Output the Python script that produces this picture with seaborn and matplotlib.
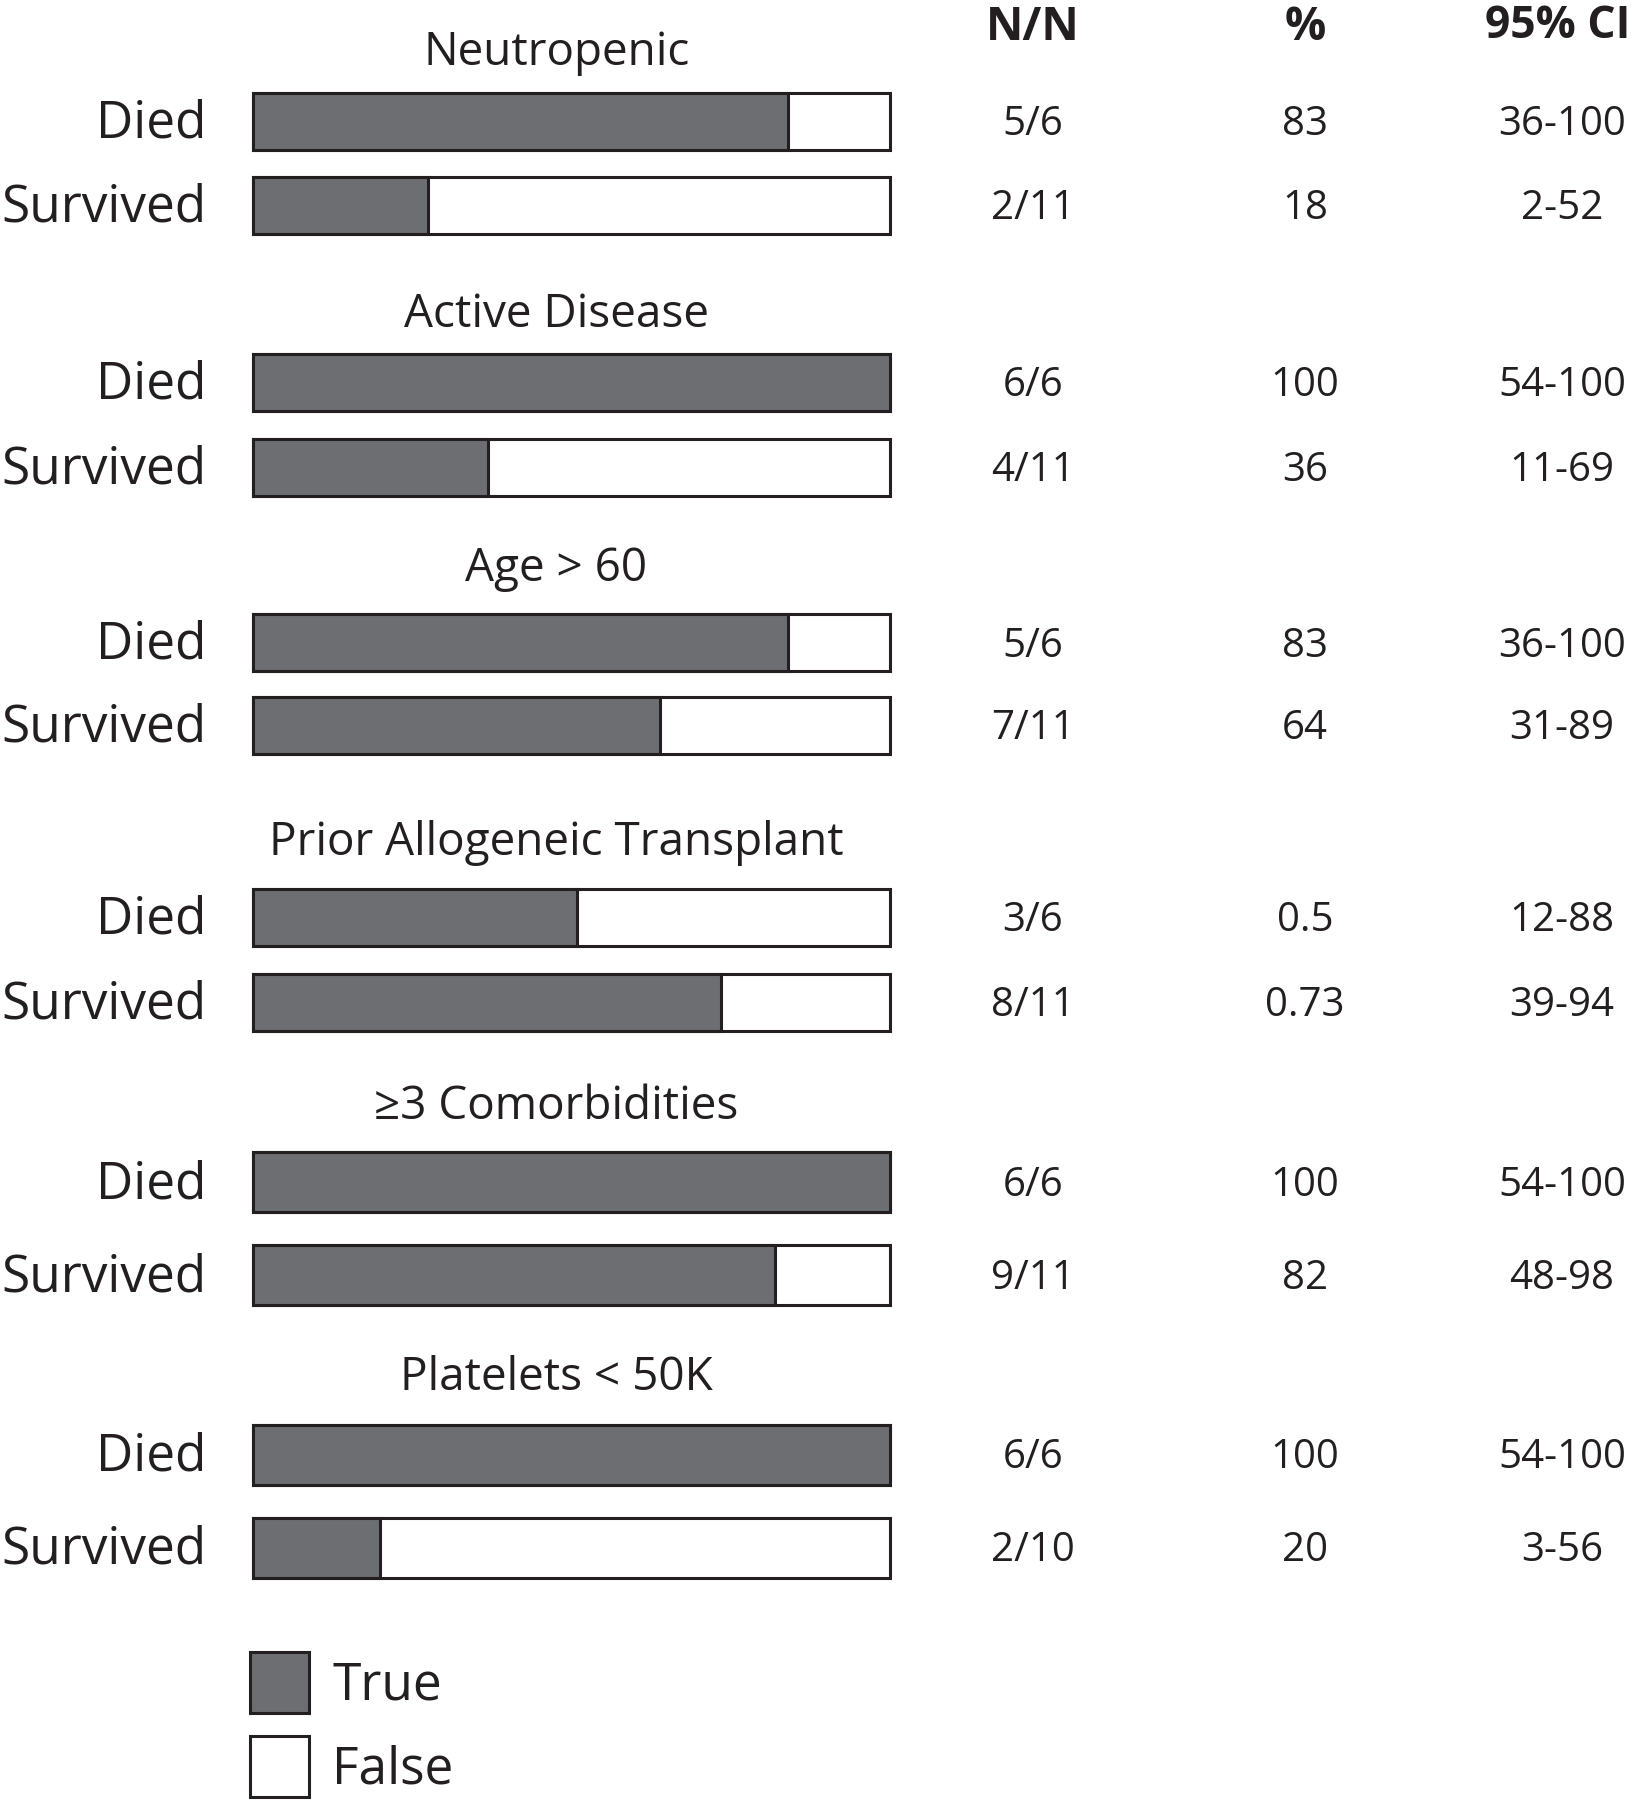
import pandas as pd
import matplotlib
matplotlib.use("Agg")
import matplotlib.pyplot as plt
import matplotlib.transforms as mtransforms
from matplotlib.patches import Patch
import seaborn as sns

# --- data ---
groups = ["Neutropenic", "Active Disease", "Age > 60",
          "Prior Allogeneic Transplant", "\u22653 Comorbidities", "Platelets < 50K"]
statuses = ["Died", "Survived"]
# drawn length of the "True" part of each bar (percent of full bar)
died_true = [84, 100, 84, 51, 100, 100]
survived_true = [27.5, 37, 64, 73.5, 82, 20]
# table columns
nn_died = ["5/6", "6/6", "5/6", "3/6", "6/6", "6/6"]
nn_survived = ["2/11", "4/11", "7/11", "8/11", "9/11", "2/10"]
pct_died = ["83", "100", "83", "0.5", "100", "100"]
pct_survived = ["18", "36", "64", "0.73", "82", "20"]
ci_died = ["36-100", "54-100", "36-100", "12-88", "54-100", "54-100"]
ci_survived = ["2-52", "11-69", "31-89", "39-94", "48-98", "3-56"]
col_headers = ["N/N", "%", "95% CI"]

GRAY = "#6d6e71"
INK = "#231f20"

sns.set_style("white")
plt.rcParams["font.family"] = ["Open Sans", "DejaVu Sans"]
plt.rcParams["text.color"] = INK

W, H = 1632, 1800
fig = plt.figure(figsize=(W / 100, H / 100), dpi=100)

# layout: pixel centres of the Died / Survived rows in each group
died_px = [121.7, 382.3, 642.9, 917.3, 1182.4, 1454.5]
surv_px = [205.5, 467.2, 725.5, 1002.2, 1275.4, 1547.5]
bar_h_px = [57, 57, 57, 57, 60, 60]
title_off_px = [-69, -67, -74, -74, -75, -76]
bar_left, bar_right = 252.5, 889.5
col_x = [1033 / W, 1305 / W, 1562 / W]

for g, title in enumerate(groups):
    step = surv_px[g] - died_px[g]
    half = bar_h_px[g] / 2 / step
    top = died_px[g] - half * step
    bottom = surv_px[g] + half * step
    ax = fig.add_axes([bar_left / W, 1 - bottom / H,
                       (bar_right - bar_left) / W, (bottom - top) / H])

    df = pd.DataFrame({
        "status": statuses,
        "full": [100, 100],
        "true": [died_true[g], survived_true[g]],
    })
    sns.barplot(data=df, x="full", y="status", orient="h", color="white",
                edgecolor=INK, linewidth=2.2, width=2 * half, saturation=1, ax=ax)
    sns.barplot(data=df, x="true", y="status", orient="h", color=GRAY,
                edgecolor=INK, linewidth=2.2, width=2 * half, saturation=1, ax=ax)
    for p in ax.patches:
        p.set_clip_on(False)

    ax.set_xlim(0, 100)
    ax.set_ylim(1 + half, -half)
    ax.set_xlabel("")
    ax.set_ylabel("")
    ax.set_xticks([])
    sns.despine(ax=ax, left=True, bottom=True)
    ax.tick_params(axis="y", length=0, pad=33, labelsize=37, labelcolor=INK)
    shift = mtransforms.ScaledTranslation(0, 3.5 / 100, fig.dpi_scale_trans)
    for lab in ax.get_yticklabels():
        lab.set_transform(lab.get_transform() + shift)

    # group title above the bars
    blend = mtransforms.blended_transform_factory(ax.transAxes, ax.transData)
    ax.text(0.477, title_off_px[g] / step, title, transform=blend,
            ha="center", va="center", fontsize=33)

    # table columns on the right
    fblend = mtransforms.blended_transform_factory(fig.transFigure, ax.transData)
    rows = [(nn_died[g], pct_died[g], ci_died[g]),
            (nn_survived[g], pct_survived[g], ci_survived[g])]
    for i, row in enumerate(rows):
        for x, txt in zip(col_x, row):
            ax.text(x, i + 3.5 / step, txt, transform=fblend, ha="center",
                    va="center", fontsize=29)

# column headers (last one kept inside the right edge)
for x, txt in zip(col_x[:2], col_headers[:2]):
    fig.text(x, 1 - 27 / H, txt, ha="center", va="center", fontsize=33,
             fontweight="bold")
fig.text(1630 / W, 1 - 27 / H, col_headers[2], ha="right", va="center",
         fontsize=32, fontweight="bold")

# legend
handles = [Patch(facecolor=GRAY, edgecolor=INK, linewidth=2.2, label="True"),
           Patch(facecolor="white", edgecolor=INK, linewidth=2.2, label="False")]
fig.legend(handles=handles, loc="upper left",
           bbox_to_anchor=(250 / W, 1 - 1652 / H), frameon=False,
           fontsize=37, handlelength=1.15, handleheight=1.45,
           handletextpad=0.45, labelspacing=0.45, borderpad=0,
           borderaxespad=0)

fig.savefig("out.png", dpi=100)
